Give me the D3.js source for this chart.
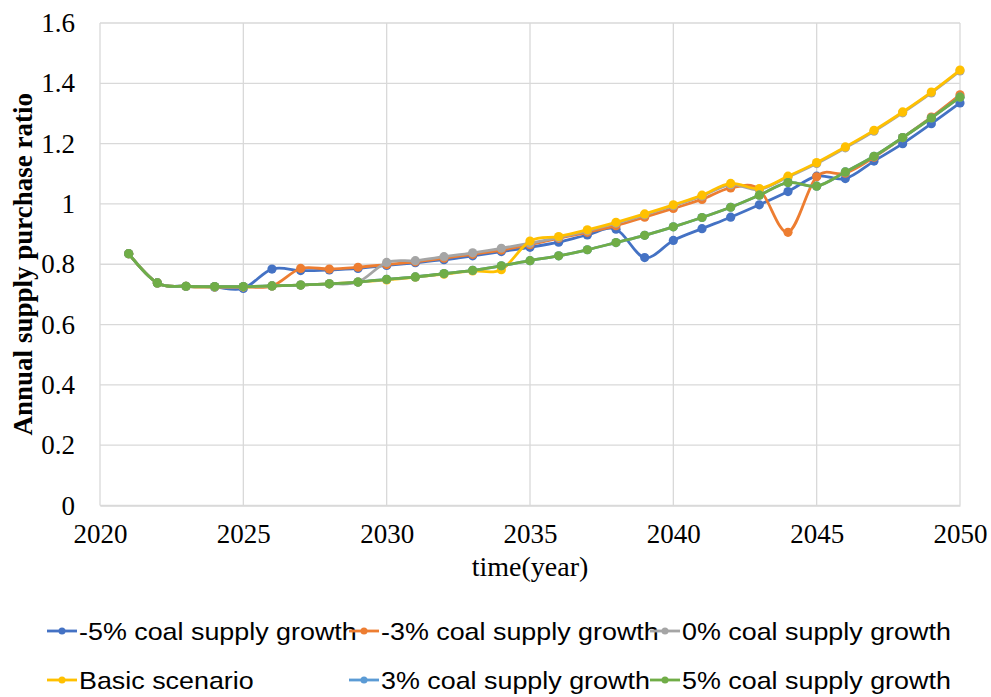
<!DOCTYPE html>
<html>
<head>
<meta charset="utf-8">
<script src="https://cdn.jsdelivr.net/npm/d3@7"></script>
<style>
html,body{margin:0;padding:0;background:#fff;}
svg{display:block;}
</style>
</head>
<body>
<svg id="chart" width="991" height="697"></svg>
<script>
const years = [2021,2022,2023,2024,2025,2026,2027,2028,2029,2030,2031,2032,2033,2034,2035,2036,2037,2038,2039,2040,2041,2042,2043,2044,2045,2046,2047,2048,2049,2050];
const minus5 = [0.835,0.738,0.727,0.724,0.720,0.784,0.779,0.781,0.786,0.796,0.805,0.815,0.828,0.842,0.856,0.873,0.897,0.916,0.822,0.879,0.918,0.956,0.997,1.041,1.092,1.084,1.142,1.200,1.266,1.335];
const minus3 = [0.835,0.738,0.727,0.725,0.725,0.728,0.786,0.784,0.790,0.799,0.808,0.820,0.833,0.847,0.865,0.886,0.906,0.928,0.956,0.985,1.015,1.053,1.048,0.906,1.090,1.102,1.155,1.220,1.288,1.362];
const zero = [0.835,0.738,0.727,0.725,0.725,0.728,0.731,0.735,0.741,0.806,0.812,0.825,0.838,0.853,0.870,0.889,0.911,0.936,0.964,0.994,1.026,1.064,1.048,1.089,1.134,1.186,1.241,1.302,1.368,1.441];
const basic = [0.835,0.738,0.727,0.725,0.725,0.728,0.731,0.735,0.741,0.748,0.757,0.767,0.778,0.782,0.877,0.892,0.914,0.939,0.967,0.997,1.029,1.068,1.051,1.092,1.137,1.189,1.244,1.305,1.371,1.444];
const plus3 = [0.835,0.738,0.727,0.726,0.726,0.728,0.731,0.735,0.741,0.750,0.758,0.769,0.780,0.795,0.812,0.828,0.848,0.872,0.896,0.924,0.955,0.989,1.029,1.071,1.059,1.106,1.158,1.220,1.285,1.354];
const plus5 = [0.835,0.738,0.727,0.726,0.726,0.728,0.731,0.735,0.741,0.750,0.758,0.769,0.780,0.795,0.812,0.828,0.848,0.872,0.896,0.924,0.955,0.989,1.029,1.071,1.059,1.106,1.158,1.220,1.285,1.354];
const seriesNames = ["-5% coal supply growth","-3% coal supply growth","0% coal supply growth","Basic scenario","3% coal supply growth","5% coal supply growth"];
const seriesColors = ["#4472C4","#ED7D31","#A5A5A5","#FFC000","#5B9BD5","#70AD47"];
const xTicks = [2020,2025,2030,2035,2040,2045,2050];
const yTicks = [0,0.2,0.4,0.6,0.8,1,1.2,1.4,1.6];
const xTitle = "time(year)";
const yTitle = "Annual supply purchase ratio";

const series = [minus5, minus3, zero, basic, plus3, plus5].map((vals,i)=>({
  name: seriesNames[i], color: seriesColors[i],
  points: years.map((y,j)=>({x:y, v:vals[j]}))
}));

const svg = d3.select("#chart");
const x = d3.scaleLinear().domain([2020,2050]).range([100,960]);
const y = d3.scaleLinear().domain([0,1.6]).range([505.5,23]);

const serif = "'Liberation Serif','Times New Roman',serif";
const sans = "'Liberation Sans',Arial,sans-serif";

// gridlines
const grid = svg.append("g");
grid.selectAll("line.h").data(yTicks).join("line")
  .attr("x1",x(2020)).attr("x2",x(2050))
  .attr("y1",d=>y(d)).attr("y2",d=>y(d))
  .attr("stroke","#d9d9d9").attr("stroke-width",1.3);
grid.selectAll("line.v").data(xTicks).join("line")
  .attr("x1",d=>x(d)).attr("x2",d=>x(d))
  .attr("y1",y(0)).attr("y2",y(1.6))
  .attr("stroke","#d9d9d9").attr("stroke-width",1.3);

// axes
const xAxis = svg.append("g").attr("transform",`translate(0,${y(0)})`)
  .call(d3.axisBottom(x).tickValues(xTicks).tickFormat(d3.format("d")).tickSize(0).tickPadding(18));
xAxis.attr("font-family",null).attr("font-size",null);
xAxis.select(".domain").attr("stroke","#d9d9d9").attr("stroke-width",1.3);
xAxis.selectAll("text").style("font-family",serif).style("font-size","27px").attr("fill","#000");

const yAxis = svg.append("g").attr("transform",`translate(${x(2020)},0)`)
  .call(d3.axisLeft(y).tickValues(yTicks).tickFormat(d=>String(+d.toFixed(1))).tickSize(0).tickPadding(25));
yAxis.attr("font-family",null).attr("font-size",null);
yAxis.select(".domain").remove();
yAxis.selectAll("text").style("font-family",serif).style("font-size","27px").attr("fill","#000");

// titles
svg.append("text").attr("x",(x(2020)+x(2050))/2).attr("y",576)
  .attr("text-anchor","middle").style("font-family",serif).style("font-size","28px").attr("fill","#000")
  .text(xTitle);
svg.append("text").attr("transform",`translate(32,${(y(0)+y(1.6))/2}) rotate(-90)`)
  .attr("text-anchor","middle").style("font-family",serif).style("font-size","27px").attr("font-weight","bold").attr("fill","#000")
  .text(yTitle);

// lines
const line = d3.line().x(d=>x(d.x)).y(d=>y(d.v)).curve(d3.curveCardinal.tension(0));
const gS = svg.append("g");
series.forEach(s=>{
  const g = gS.append("g");
  g.append("path").attr("d",line(s.points)).attr("fill","none")
    .attr("stroke",s.color).attr("stroke-width",2.8).attr("stroke-linejoin","round");
  g.selectAll("circle").data(s.points).join("circle")
    .attr("cx",d=>x(d.x)).attr("cy",d=>y(d.v)).attr("r",4.6).attr("fill",s.color);
});

// legend
const legPos = [[47,631],[349,631],[650,631],[47,680],[349,680],[650,680]];
const leg = svg.append("g");
series.forEach((s,i)=>{
  const [lx,ly] = legPos[i];
  const g = leg.append("g");
  g.append("line").attr("x1",lx).attr("x2",lx+30).attr("y1",ly).attr("y2",ly)
    .attr("stroke",s.color).attr("stroke-width",2.8);
  g.append("circle").attr("cx",lx+15).attr("cy",ly).attr("r",3.5).attr("fill",s.color);
  g.append("text").attr("transform",`translate(${lx+32},${ly+8.5}) scale(1.12,1)`)
    .style("font-family",sans).style("font-size","24px").attr("fill","#000").text(s.name);
});
</script>
</body>
</html>
